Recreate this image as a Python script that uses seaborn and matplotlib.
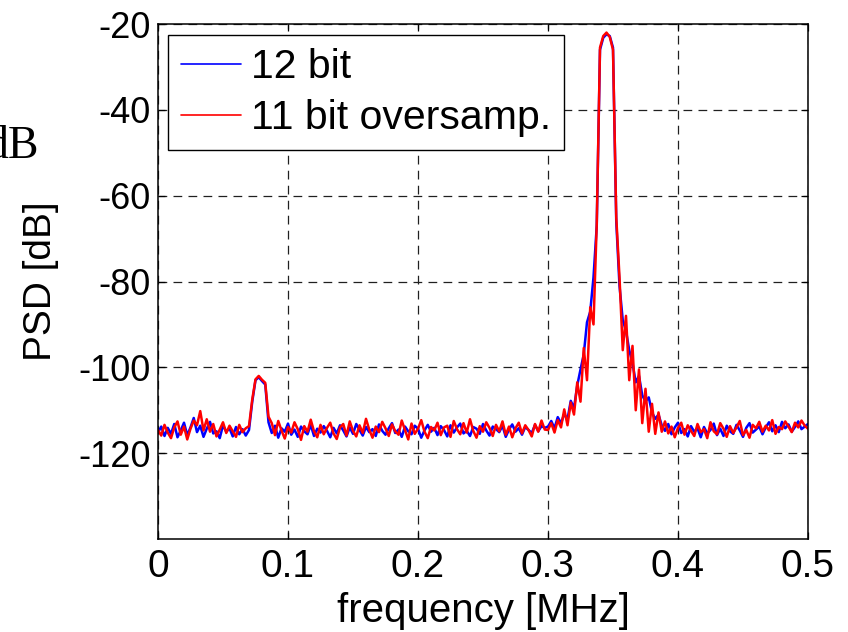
import numpy as np
import pandas as pd
import matplotlib
matplotlib.use("Agg")
import matplotlib.pyplot as plt
import seaborn as sns

# frequency grid (MHz) and PSD values (dB)
freq = np.linspace(0.0, 0.5, 201)

psd_12bit = [
    -115.2, -113.8, -116.0, -114.1, -115.5, -113.2, -116.3, -114.7, -112.9, -115.8,
    -114.0, -111.8, -115.1, -113.6, -116.2, -114.3, -112.7, -115.4, -114.9, -116.5,
    -113.5, -115.0, -114.2, -116.1, -113.9, -115.6, -114.4, -115.9, -114.6,
    -108.0, -103.0, -102.3, -103.2, -104.0, -112.8,
    -115.3, -113.6, -116.4, -114.2, -115.0, -113.1, -115.7, -114.5, -116.2, -113.8,
    -114.9, -115.6, -113.4, -116.0, -114.3, -115.2, -113.7, -114.8, -116.3, -114.1,
    -115.4, -113.5, -114.7, -116.1, -114.0, -115.5, -113.2, -114.6, -115.9, -113.9,
    -115.1, -114.4, -116.0, -113.3, -114.8, -115.7, -114.2, -113.0, -115.3, -114.5,
    -116.2, -113.8, -114.9, -115.6, -113.6, -114.3, -116.4, -114.7, -113.4, -115.0,
    -114.1, -115.8, -113.7, -114.6, -116.1, -113.5, -115.2, -114.0, -113.1, -115.4,
    -114.8, -116.0, -113.9, -114.3, -115.5, -113.2, -114.7, -115.9, -113.8, -114.4,
    -115.1, -113.6, -116.2, -114.5, -113.3, -115.0, -114.2, -115.7, -113.9, -114.6,
    -115.3, -113.4, -114.9, -113.7, -114.1,
    -113.8, -112.5, -114.2, -111.6, -113.0, -110.9, -112.1, -107.8, -109.5, -104.2,
    -100.5, -97.0, -89.5, -87.0, -79.0, -67.0,
    -26.0, -23.2, -22.4, -22.8, -25.5,
    -66.0, -81.0, -89.0, -91.5, -96.0, -99.0, -103.5, -102.0, -106.5, -108.0,
    -107.0, -110.5, -112.0, -111.0, -113.5,
    -114.8, -113.2, -115.6, -114.0, -112.9, -115.3, -114.4, -116.1, -113.7, -115.0,
    -114.2, -116.3, -113.9, -115.4, -114.6, -113.1, -115.8, -114.3, -116.0, -113.6,
    -114.9, -115.5, -113.4, -114.7, -116.2, -114.1, -113.0, -115.2, -114.5, -113.8,
    -115.6, -114.0, -112.8, -114.9, -113.5, -115.1, -112.7, -114.2, -113.3, -115.0,
    -113.9, -112.6, -114.4, -113.8, -113.2,
]

psd_11bit_os = [
    -114.6, -115.9, -113.4, -115.2, -116.5, -114.0, -112.6, -115.7, -113.8, -116.8,
    -114.3, -112.4, -113.5, -110.2, -114.7, -112.1, -115.0, -113.2, -116.1, -114.5,
    -112.8, -115.3, -113.6, -114.9, -116.2, -113.4, -115.1, -114.2, -113.7,
    -107.5, -102.8, -102.0, -102.9, -103.6, -111.5,
    -113.0, -115.8, -112.5, -114.7, -116.6, -113.9, -115.2, -112.8, -114.4, -116.9,
    -113.7, -115.0, -112.2, -114.9, -116.3, -113.4, -115.6, -114.1, -112.9, -115.4,
    -116.7, -114.0, -113.2, -115.9, -112.6, -114.8, -116.1, -113.5, -115.3, -112.0,
    -114.5, -116.4, -113.8, -115.1, -112.7, -114.2, -116.0, -113.3, -114.9, -115.7,
    -112.4, -114.6, -116.8, -113.1, -115.5, -114.3, -112.3, -115.0, -116.5, -113.9,
    -114.7, -112.9, -115.8, -114.0, -113.6, -116.2, -112.5, -114.4, -115.6, -113.0,
    -115.2, -112.1, -114.8, -116.4, -113.7, -115.0, -112.8, -114.1, -116.0, -113.4,
    -114.9, -112.6, -115.7, -113.8, -116.3, -114.2, -112.9, -115.4, -113.5, -114.6,
    -116.1, -113.2, -115.0, -112.4, -114.5,
    -114.6, -113.0, -115.2, -112.3, -114.0, -109.8, -113.5, -108.2, -111.0, -103.5,
    -108.0, -95.5, -103.0, -86.0, -90.0, -66.5,
    -25.5, -22.8, -22.0, -23.0, -26.0,
    -65.0, -79.0, -96.0, -88.0, -103.0, -95.0, -110.0, -100.5, -113.0, -105.0,
    -115.0, -108.5, -115.5, -110.5, -115.0,
    -112.6, -115.4, -113.8, -116.3, -114.1, -112.9, -115.7, -113.5, -114.8, -116.0,
    -113.2, -115.1, -114.4, -116.5, -112.8, -114.9, -115.6, -113.0, -114.3, -116.2,
    -113.7, -115.3, -114.0, -112.5, -115.8, -114.6, -116.4, -113.4, -114.2, -112.7,
    -115.0, -113.6, -114.7, -112.3, -115.5, -113.9, -114.4, -112.6, -113.8, -115.1,
    -112.9, -114.0, -112.4, -113.6, -114.3,
]

series_names = ["12 bit", "11 bit oversamp."]
series_colors = ["#0000ff", "#ff0000"]
x_ticks = [0, 0.1, 0.2, 0.3, 0.4, 0.5]
x_ticklabels = ["0", "0.1", "0.2", "0.3", "0.4", "0.5"]
y_ticks = [-120, -100, -80, -60, -40, -20]
y_ticklabels = ["-120", "-100", "-80", "-60", "-40", "-20"]

df = pd.concat([
    pd.DataFrame({"f": freq, "psd": psd_12bit, "series": series_names[0]}),
    pd.DataFrame({"f": freq, "psd": psd_11bit_os, "series": series_names[1]}),
], ignore_index=True)

sns.set_theme(style="white")
plt.rcParams["font.family"] = ["Liberation Sans", "DejaVu Sans"]

fig = plt.figure(figsize=(8.48, 6.32), dpi=100)
ax = fig.add_axes([158 / 848, 1 - 539 / 632, 650 / 848, 515 / 632])

sns.lineplot(data=df, x="f", y="psd", hue="series", hue_order=series_names,
             palette=series_colors, estimator=None, sort=False,
             linewidth=1.8, ax=ax, legend=False)

ax.set_xlim(0, 0.5)
ax.set_ylim(-140, -20)
ax.set_xticks(x_ticks)
ax.set_xticklabels(x_ticklabels, fontsize=28)
ax.set_yticks(y_ticks)
ax.set_yticklabels(y_ticklabels, fontsize=26)

ax.tick_params(axis="both", direction="in", length=5, width=0.9, color="black",
               top=True, right=True, bottom=True, left=True, labelcolor="black")
ax.tick_params(axis="x", pad=7)
ax.tick_params(axis="y", pad=5)

ax.grid(True, color="#202020", linestyle=(0, (7, 5)), linewidth=0.9)
for sp in ax.spines.values():
    sp.set_visible(True)
    sp.set_color("black")
    sp.set_linewidth(1.1)

ax.set_xlabel("frequency [MHz]", fontsize=29, color="black")
ax.set_ylabel("PSD [dB]", fontsize=28, color="black")
ax.xaxis.set_label_coords(0.5, -0.103)
ax.yaxis.set_label_coords(-0.152, 0.5)

handles = [plt.Line2D([], [], color=c, linewidth=1.2) for c in series_colors]
leg = ax.legend(handles, series_names, loc="upper left",
                bbox_to_anchor=((168 - 158) / 650, (539 - 35) / 515),
                borderaxespad=0, fontsize=29.5, handlelength=1.45, handletextpad=0.25,
                borderpad=0.32, labelspacing=0.32, fancybox=False, framealpha=1,
                edgecolor="black")
leg.get_frame().set_linewidth(1.0)
for t in leg.get_texts():
    t.set_color("black")

fig.text(-15 / 848, 1 - 158 / 632, "dB", fontsize=33, family="Liberation Serif",
         color="black", ha="left", va="baseline")

fig.savefig("out.png", dpi=100, facecolor="white")
